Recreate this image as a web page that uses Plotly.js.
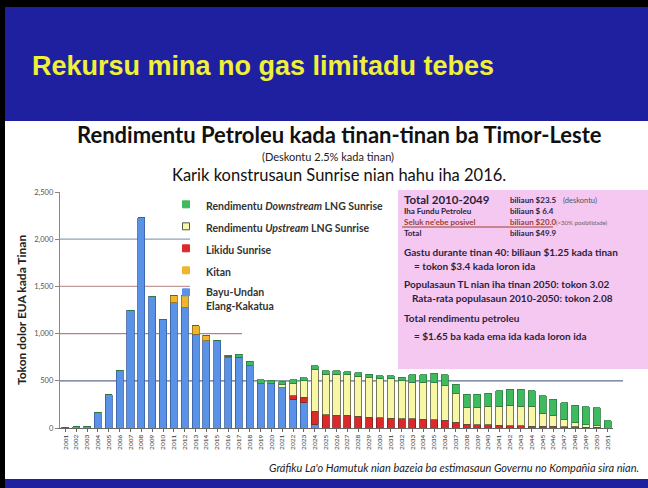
<!DOCTYPE html>
<html>
<head>
<meta charset="utf-8">
<script src="https://cdn.plot.ly/plotly-3.0.1.min.js"></script>
<style>html,body{margin:0;padding:0;background:#fff;}#chart{width:648px;height:488px;}</style>
</head>
<body>
<div id="chart"></div>
<script>
// ---- Data (million US$ per year) ----
const years = ['2001','2002','2003','2004','2005','2006','2007','2008','2009','2010',
  '2011','2012','2013','2014','2015','2016','2017','2018','2019','2020',
  '2021','2022','2023','2024','2025','2026','2027','2028','2029','2030',
  '2031','2032','2033','2034','2035','2036','2037','2038','2039','2040',
  '2041','2042','2043','2044','2045','2046','2047','2048','2049','2050','2051'];

const bayuUndan = [7,14,18,168,351,614,1249,2229,1397,1151,
  1327,1274,993,923,930,748,748,660,467,467,
  425,302,274,39,0,0,0,0,0,0,
  0,0,0,0,0,0,0,0,0,0,
  0,0,0,0,0,0,0,0,0,0,0];

const kitan = [0,0,0,0,0,0,0,0,0,0,
  80,130,88,60,0,10,0,0,0,0,
  0,0,0,0,0,0,0,0,0,0,
  0,0,0,0,0,0,0,0,0,0,
  0,0,0,0,0,0,0,0,0,0,0];

const likiduSunrise = [0,0,0,0,0,0,0,0,0,0,
  0,0,0,0,0,0,0,0,0,0,
  0,42,53,137,140,133,133,123,116,109,
  105,98,98,91,88,81,63,39,32,36,
  29,25,25,18,18,18,11,11,7,7,0];

const upstreamLNG = [0,0,0,0,0,0,0,0,0,0,
  0,0,0,0,0,0,0,0,0,0,
  40,123,176,449,432,439,429,425,417,411,
  415,400,386,393,390,369,298,183,190,196,
  204,214,207,214,136,114,79,43,29,18,0];

const downstreamLNG = [0,0,0,0,0,0,0,0,0,0,
  0,0,0,0,0,15,35,45,42,35,
  25,45,28,35,35,35,35,35,39,35,
  35,39,81,81,102,112,105,133,133,136,
  161,171,179,161,186,171,179,186,189,189,79];

const yTickVals = [0,500,1000,1500,2000,2500];
const yTickText = ['0','500','1,000','1,500','2,000','2,500'];

const seriesNames = ['Bayu-Undan<br>Elang-Kakatua','Kitan','Likidu Sunrise',
  'Rendimentu <i>Upstream</i> LNG Sunrise','Rendimentu <i>Downstream</i> LNG Sunrise'];

// ---- Styling ----
const colors = {blue:'#5a92e8', kitan:'#efb62c', red:'#dc2a2a', upstream:'#f8f7a6', green:'#3fba5e'};
const FONT = 'Lato, "Open Sans", sans-serif';

// pixel -> paper helpers (plot area: x 60..613, y 192..428)
const L = 60, R = 35, T = 192, B = 60, W = 648, H = 488;
const pw = W - L - R, ph = H - T - B;
const px = p => (p - L) / pw;
const py = p => (H - B - p) / ph;

function bar(y, name, color, lineColor) {
  return {type:'bar', x: years, y: y, name: name, showlegend:false,
    marker:{color: color, line:{color: lineColor, width:0.8}},
    hovertemplate:'%{x}: %{y}<extra></extra>'};
}

const traces = [
  bar(bayuUndan, seriesNames[0], colors.blue, '#3a5f9e'),
  bar(kitan, seriesNames[1], colors.kitan, '#8a6a20'),
  bar(likiduSunrise, seriesNames[2], colors.red, '#7a2020'),
  bar(upstreamLNG, seriesNames[3], colors.upstream, '#5a5a40'),
  bar(downstreamLNG, seriesNames[4], colors.green, '#2a7a40')
];

// legend entries (small square swatches like the reference)
const legendDefs = [
  [seriesNames[4], colors.green, colors.green],
  [seriesNames[3], colors.upstream, '#555'],
  [seriesNames[2], colors.red, colors.red],
  [seriesNames[1], colors.kitan, colors.kitan],
  [seriesNames[0], colors.blue, colors.blue]
];
legendDefs.forEach((d, i) => {
  traces.push({type:'scatter', mode:'markers', x:[null], y:[null], name:d[0],
    legendgroup:'g'+i, legendrank: i+1,
    marker:{symbol:'square', size:7, color:d[1], line:{color:d[2], width:1}}, hoverinfo:'skip'});
});

const shapes = [
  // slide background pieces
  {type:'rect', xref:'paper', yref:'paper', x0:px(0), x1:px(648), y0:py(121), y1:py(0), fillcolor:'#1f20a0', line:{width:0}, layer:'below'},
  {type:'rect', xref:'paper', yref:'paper', x0:px(0), x1:px(648), y0:py(488), y1:py(479), fillcolor:'#1f20a0', line:{width:0}, layer:'below'},
  {type:'rect', xref:'paper', yref:'paper', x0:px(0), x1:px(648), y0:py(7), y1:py(0), fillcolor:'#000', line:{width:0}, layer:'below'},
  {type:'rect', xref:'paper', yref:'paper', x0:px(0), x1:px(5), y0:py(488), y1:py(0), fillcolor:'#000', line:{width:0}, layer:'below'},
  // pink info box
  {type:'rect', xref:'paper', yref:'paper', x0:px(398), x1:px(648), y0:py(369), y1:py(190), fillcolor:'#f5c8f1', line:{width:0}, layer:'below'},
  {type:'line', xref:'paper', yref:'paper', x0:px(402), x1:px(553), y0:py(227), y1:py(227), line:{color:'#9a4030', width:1}},
  // partial gridlines
  {type:'line', xref:'paper', yref:'y', x0:0, x1:px(190), y0:2000, y1:2000, line:{color:'#8ea2b8', width:1.3}, layer:'below'},
  {type:'line', xref:'paper', yref:'y', x0:0, x1:px(190), y0:1500, y1:1500, line:{color:'#c29a9a', width:1.2}, layer:'below'},
  {type:'line', xref:'paper', yref:'y', x0:0, x1:px(242), y0:1000, y1:1000, line:{color:'#b08484', width:1.2}, layer:'below'},
  {type:'line', xref:'paper', yref:'y', x0:0, x1:px(623), y0:500, y1:500, line:{color:'#5f6f88', width:1.2}, layer:'below'}
];

function ann(text, x, y, size, opts) {
  return Object.assign({text:text, xref:'paper', yref:'paper', x:px(x), y:py(y), xanchor:'left', yanchor:'middle',
    showarrow:false, font:{family:FONT, size:size, color:'#2a1f3d'}}, opts || {});
}

const annotations = [
  ann('<b>Rekursu mina no gas limitadu tebes</b>', 30, 66, 27,
    {font:{family:'"Liberation Sans", Arial, sans-serif', size:27, color:'#f0f03a'}}),
  ann('<b>Rendimentu Petroleu kada tinan-tinan ba Timor-Leste</b>', 339, 134, 22, {xanchor:'center', font:{family:FONT, size:22, color:'#111'}}),
  ann('(Deskontu 2.5% kada tinan)', 328, 156.5, 11, {xanchor:'center', font:{family:FONT, size:11, color:'#222'}}),
  ann('Karik konstrusaun Sunrise nian hahu iha 2016.', 339, 175, 16.5, {xanchor:'center', font:{family:FONT, size:16.5, color:'#111'}}),
  ann('<i>Gráfiku La\'o Hamutuk nian bazeia ba estimasaun Governu no Kompañia sira nian.</i>', 641, 467, 11, {xanchor:'right', font:{family:FONT, size:11, color:'#222'}}),
  // info box
  ann('<b>Total 2010-2049</b>', 402, 199, 11.5),
  ann('<b>biliaun $23.5</b>', 508, 200, 8),
  ann('(deskontu)', 561, 200, 7.5, {font:{family:FONT, size:7.5, color:'#555'}}),
  ann('<b>Iha Fundu Petroleu</b>', 402, 211, 8),
  ann('<b>biliaun $ 6.4</b>', 508, 211, 8),
  ann('<b>Seluk ne\'ebe posivel</b>', 402, 222, 8, {font:{family:FONT, size:8, color:'#9a4030'}}),
  ann('<b>biliaun $20.0</b>', 508, 222, 8, {font:{family:FONT, size:8, color:'#9a4030'}}),
  ann('(&lt;30% posibilidade)', 554, 222, 6, {font:{family:FONT, size:6, color:'#666'}}),
  ann('<b>Total</b>', 402, 233, 8),
  ann('<b>biliaun $49.9</b>', 508, 233, 8),
  ann('<b>Gastu durante tinan 40: biliaun $1.25 kada tinan</b>', 402, 252, 10),
  ann('<b>= tokon $3.4 kada loron ida</b>', 412, 266, 10),
  ann('<b>Populasaun TL nian iha tinan 2050: tokon 3.02</b>', 402, 284, 10),
  ann('<b>Rata-rata populasaun 2010-2050: tokon 2.08</b>', 410, 298, 10),
  ann('<b>Total rendimentu petroleu</b>', 402, 318, 10),
  ann('<b>= $1.65 ba kada ema ida kada loron ida</b>', 412, 336, 10)
];

const layout = {
  width: W, height: H, autosize:false,
  margin:{l:L, r:R, t:T, b:B, pad:0},
  paper_bgcolor:'#ffffff', plot_bgcolor:'rgba(0,0,0,0)',
  barmode:'stack', bargap:0.35,
  font:{family:FONT, color:'#333'},
  xaxis:{type:'category', tickangle:-90, tickfont:{family:FONT, size:6.5, color:'#333'},
    showline:true, linecolor:'#666', linewidth:1.2, ticks:'outside', ticklen:3, tickcolor:'#666',
    showgrid:false, zeroline:false, automargin:false},
  yaxis:{range:[0,2500], tickvals:yTickVals, ticktext:yTickText, showgrid:false, zeroline:false,
    showline:true, linecolor:'#888', linewidth:1.2, ticks:'outside', ticklen:4, tickcolor:'#888',
    tickfont:{family:FONT, size:7.5, color:'#555'}, automargin:false,
    title:{text:'<b>Tokon dolor EUA kada Tinan</b>', font:{family:FONT, size:12, color:'#222'}, standoff:5}},
  showlegend:true,
  legend:{x:px(166), y:py(191), xanchor:'left', yanchor:'top', bgcolor:'rgba(0,0,0,0)', valign:'top',
    font:{family:FONT, size:10.5, color:'#333', weight:700}, traceorder:'grouped', tracegroupgap:3},
  shapes: shapes,
  annotations: annotations
};

Plotly.newPlot('chart', traces, layout, {displayModeBar:false, staticPlot:true});
</script>
</body>
</html>
